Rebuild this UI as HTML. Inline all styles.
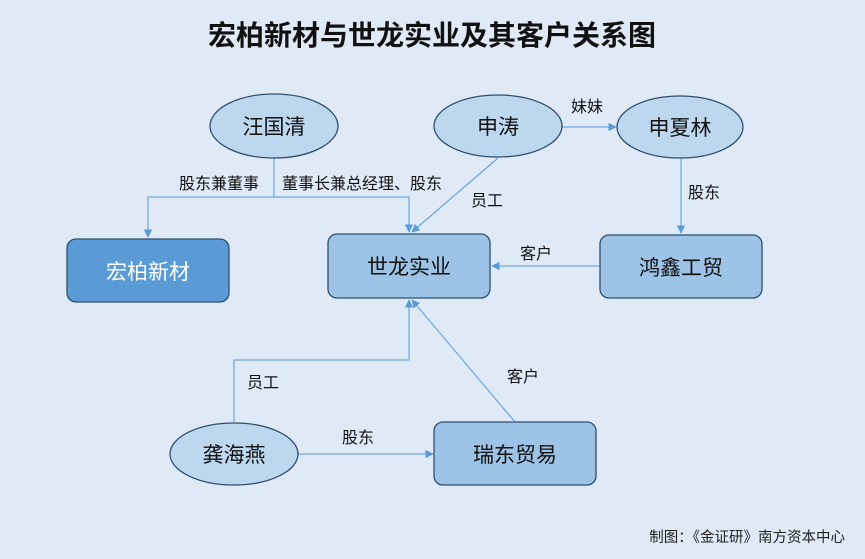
<!DOCTYPE html>
<html><head><meta charset="utf-8"><style>
html,body{margin:0;padding:0;background:#dfeaf6;}
svg{display:block;}
text{font-family:"Liberation Sans","Noto Sans CJK SC",sans-serif;}
</style></head><body>
<svg width="865" height="559" viewBox="0 0 865 559" xmlns="http://www.w3.org/2000/svg">
<defs><marker id="a" viewBox="0 0 10 10" refX="9" refY="5" markerWidth="7" markerHeight="7" orient="auto"><path d="M0,0L10,5L0,10z" fill="#5b9bd5"/></marker></defs>
<rect width="865" height="559" fill="#dfeaf6"/>
<text x="432" y="45" font-size="28" font-weight="bold" text-anchor="middle" fill="#111">宏柏新材与世龙实业及其客户关系图</text>
<g fill="none" stroke="#6fa6dc" stroke-width="1.2">
<polyline points="274,158 274,197 148,197 148,237" marker-end="url(#a)"/>
<polyline points="274,197 409,197 409,232" marker-end="url(#a)"/>
<line x1="498" y1="158" x2="412" y2="232" marker-end="url(#a)"/>
<line x1="562" y1="127" x2="616" y2="127" marker-end="url(#a)"/>
<line x1="681" y1="158" x2="681" y2="233" marker-end="url(#a)"/>
<line x1="600" y1="266" x2="492" y2="266" marker-end="url(#a)"/>
<polyline points="234,422 234,360 409,360 409,300" marker-end="url(#a)"/>
<line x1="515" y1="422" x2="412" y2="300" marker-end="url(#a)"/>
<line x1="298" y1="454" x2="433" y2="454" marker-end="url(#a)"/>
</g>
<g stroke="#2f4f6f" stroke-width="1.3">
<ellipse cx="274" cy="126" rx="64" ry="32" fill="#bdd7ee"/>
<ellipse cx="498" cy="126" rx="64" ry="31" fill="#bdd7ee"/>
<ellipse cx="680" cy="127" rx="63" ry="31" fill="#bdd7ee"/>
<ellipse cx="234" cy="454" rx="64" ry="31" fill="#bdd7ee"/>
<rect x="67" y="239" width="162" height="63" rx="9" fill="#5b9bd5"/>
<rect x="328" y="234" width="162" height="64" rx="9" fill="#9dc3e6"/>
<rect x="600" y="235" width="162" height="63" rx="9" fill="#9dc3e6"/>
<rect x="434" y="422" width="162" height="63" rx="9" fill="#9dc3e6"/>
</g>
<g font-size="21" text-anchor="middle" fill="#111">
<text x="274" y="134">汪国清</text>
<text x="498" y="134">申涛</text>
<text x="680" y="135">申夏林</text>
<text x="234" y="462">龚海燕</text>
<text x="148" y="279" fill="#fff">宏柏新材</text>
<text x="409" y="274">世龙实业</text>
<text x="681" y="275">鸿鑫工贸</text>
<text x="515" y="462">瑞东贸易</text>
</g>
<g font-size="16" fill="#111" text-anchor="middle">
<text x="219" y="189">股东兼董事</text>
<text x="362" y="189">董事长兼总经理、股东</text>
<text x="487" y="206">员工</text>
<text x="587" y="112">妹妹</text>
<text x="704" y="198">股东</text>
<text x="536" y="259">客户</text>
<text x="263" y="388">员工</text>
<text x="523" y="382">客户</text>
<text x="358" y="443">股东</text>
</g>
<text x="845" y="542" font-size="14.5" text-anchor="end" fill="#222">制图：《金证研》南方资本中心</text>
</svg>
</body></html>
